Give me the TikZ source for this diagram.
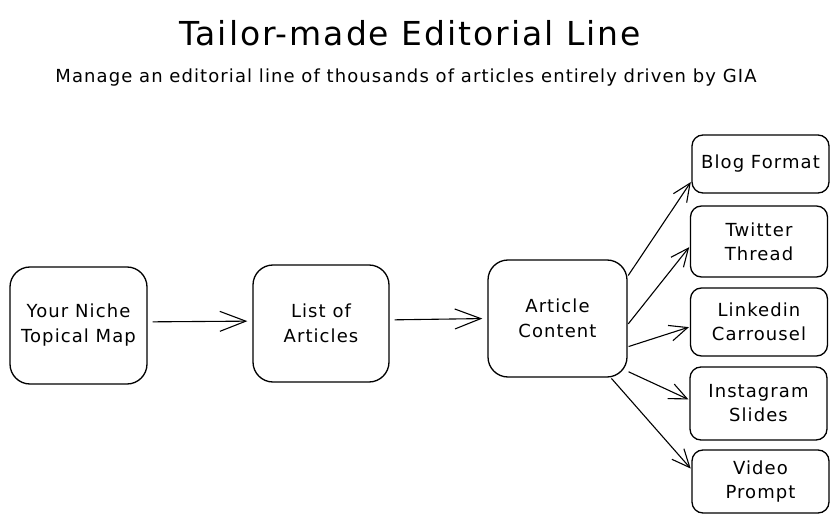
\documentclass[tikz,border=0pt]{standalone}
\usepackage{fontspec}
\setmainfont{DejaVu Sans}
\newfontfamily\handfont[LetterSpace=6]{DejaVu Sans}
\usetikzlibrary{arrows.meta}
\begin{document}
\begin{tikzpicture}[x=1pt,y=-1pt,
  bigbox/.style={draw, line width=1.3pt, rounded corners=20pt, align=center, font=\handfont\fontsize{18}{25}\selectfont, inner sep=0pt},
  smallbox/.style={draw, line width=1.3pt, rounded corners=11pt, align=center, font=\handfont\fontsize{18}{24}\selectfont, inner sep=0pt, minimum width=137pt},
  bigarr/.style={line width=1.1pt, -{Straight Barb[length=26pt,width=20pt,line width=1.1pt]}, shorten <=5pt, shorten >=5pt},
  smallarr/.style={line width=1.1pt, -{Straight Barb[length=18pt,width=16pt,line width=1.1pt]}, shorten <=1pt, shorten >=1pt}
]
\useasboundingbox (0,0) rectangle (839,524);
\node[font=\handfont\fontsize{33}{38}\selectfont] (title) at (410,33) {Tailor-made Editorial Line};
\node[font=\handfont\fontsize{18}{22}\selectfont] (sub) at (406,78) {Manage an editorial line of thousands of articles entirely driven by GIA};

\node[bigbox, minimum width=137pt, minimum height=117pt, text depth=4pt] (n1) at (78.5,325.5) {Your Niche\\Topical Map};
\node[bigbox, minimum width=136pt, minimum height=117pt] (n2) at (321,323.5) {List of\\Articles};
\node[bigbox, minimum width=139pt, minimum height=117pt] (n3) at (557.5,318.5) {Article\\Content};

\node[smallbox, minimum height=58pt] (blog) at (760.5,164) {Blog Format};
\node[smallbox, minimum height=71pt] (tw) at (759,241.5) {Twitter\\Thread};
\node[smallbox, minimum height=68pt] (li) at (759,322) {Linkedin\\Carrousel};
\node[smallbox, minimum height=73pt] (ig) at (758.5,403.5) {Instagram\\Slides};
\node[smallbox, minimum height=63pt] (vid) at (760.5,481.5) {Video\\Prompt};

\draw[bigarr] (n1.3) -- (n2.178);
\draw[bigarr] (n2.3) -- (n3.180);

\draw[smallarr] (n3.31.6) -- (blog.194.7);
\draw[smallarr] (n3.-5.5) -- (tw.184.6);
\draw[smallarr] (n3.-22) -- (li.184.1);
\draw[smallarr] (n3.-37.5) -- (ig.177);
\draw[smallarr] (n3.-48.6) -- (vid.170.5);
\end{tikzpicture}
\end{document}
